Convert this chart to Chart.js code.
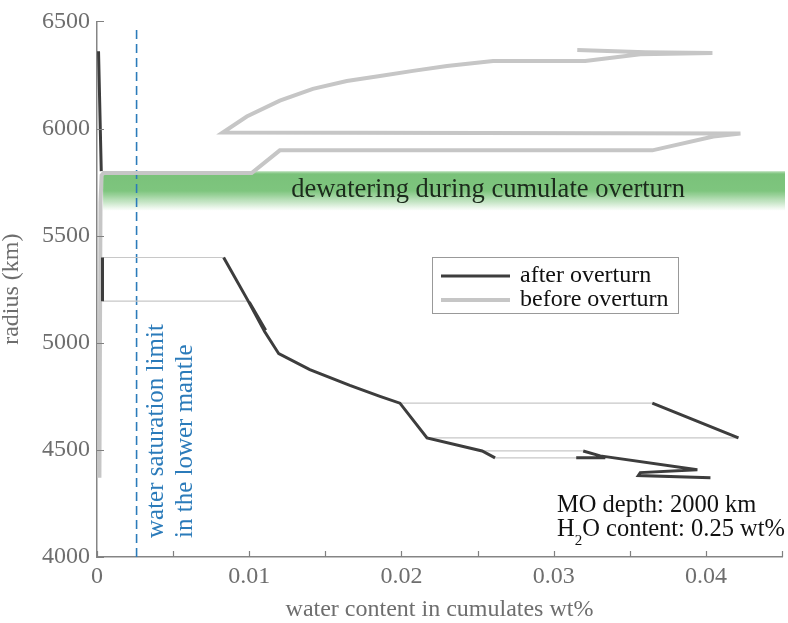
<!DOCTYPE html>
<html>
<head>
<meta charset="utf-8">
<script src="https://cdn.jsdelivr.net/npm/chart.js@4.4.0/dist/chart.umd.min.js"></script>
<style>
  body { margin: 0; background: #fff; }
  #wrap { width: 788px; height: 623px; }
</style>
</head>
<body>
<div id="wrap"><canvas id="chart"></canvas></div>
<script>
// values (water content wt%, radius km); null = gap in the line
const afterX = [0.0001, 0.00028, null, 0.00036, 0.00036, null,
  0.00832, 0.0099, 0.01102, 0.01194, 0.01398, 0.01661, 0.01859, 0.0199, 0.02168, 0.0253, 0.02615, null,
  0.01, 0.01108, null,
  0.03648, 0.04214, null, 0.03148, 0.03339, null,
  0.03194, 0.03306, 0.03944, 0.03569, 0.03556, 0.0403];
const afterR = [6361, 5801, null, 5398, 5194, null,
  5398, 5199, 5051, 4949, 4875, 4801, 4750, 4718, 4556, 4495, 4463, null,
  5190, 5058, null,
  4718, 4556, null, 4463, 4463, null,
  4495, 4472, 4407, 4394, 4380, 4370];

const beforeX = [0.00016, 0.00023, 0.0003, 0.00043, 0.01016, 0.01201, 0.03648, 0.04049, 0.04227,
  0.00826, 0.00984, 0.01201, 0.01418, 0.01641, 0.01859, 0.02076, 0.02299, 0.02602, 0.03207,
  0.03569, 0.04043, 0.03602, 0.03155];
const beforeR = [4370, 5653, 5782, 5792, 5792, 5898, 5898, 5963, 5977,
  5981, 6056, 6130, 6185, 6222, 6245, 6269, 6292, 6315, 6315,
  6347, 6352, 6356, 6366];

// thin connectors between the two profiles
const linkX = [0.00036, 0.00832, null, 0.00036, 0.0099, null, 0.0199, 0.03648, null,
  0.02168, 0.04214, null, 0.0253, 0.03194, null, 0.02615, 0.03148];
const linkR = [5398, 5398, null, 5194, 5194, null, 4718, 4718, null,
  4556, 4556, null, 4495, 4495, null, 4463, 4463];

const satX = [0.0026, 0.0026];
const satR = [4000, 6472];

const bandTop = 5801;
const bandBottom = 5616;
const bandStart = 0.0004;
const bandLabel = "dewatering during cumulate overturn";

const xTicks = [0, 0.01, 0.02, 0.03, 0.04];
const yTicks = [4000, 4500, 5000, 5500, 6000, 6500];

const serif = "'Liberation Serif', 'DejaVu Serif', serif";

function pts(xs, rs) {
  return xs.map((x, i) => ({ x: x, y: rs[i] }));
}

// green dewatering band, under the lines
const bandPlugin = {
  id: "band",
  beforeDatasetsDraw(chart) {
    const { ctx, chartArea, scales: { x, y } } = chart;
    const top = y.getPixelForValue(bandTop);
    const bot = y.getPixelForValue(bandBottom);
    const left = x.getPixelForValue(bandStart);
    const g = ctx.createLinearGradient(0, top, 0, bot);
    g.addColorStop(0, "rgba(122,194,122,0.5)");
    g.addColorStop(0.07, "rgba(122,194,122,1)");
    g.addColorStop(0.5, "rgba(126,197,126,1)");
    g.addColorStop(1, "rgba(126,197,126,0)");
    ctx.save();
    ctx.fillStyle = g;
    ctx.fillRect(left, top, chartArea.right + 3 - left, bot - top);
    ctx.fillStyle = "#1c2b1c";
    ctx.font = "26.5px " + serif;
    ctx.textAlign = "center";
    ctx.textBaseline = "middle";
    ctx.fillText(bandLabel, x.getPixelForValue(0.02569), y.getPixelForValue(5713));
    ctx.restore();
  }
};

// inward ticks, annotations and the boxed legend
const decoPlugin = {
  id: "deco",
  afterDraw(chart) {
    const { ctx, chartArea: a, scales: { x, y } } = chart;
    ctx.save();
    ctx.strokeStyle = "#808080";
    ctx.lineWidth = 1.2;
    ctx.beginPath();
    x.ticks.forEach(t => {
      const px = Math.round(x.getPixelForValue(t.value)) + 0.5;
      ctx.moveTo(px, a.bottom);
      ctx.lineTo(px, a.bottom - 6);
    });
    y.ticks.forEach(t => {
      const py = Math.round(y.getPixelForValue(t.value)) + 0.5;
      ctx.moveTo(a.left, py);
      ctx.lineTo(a.left + 7, py);
    });
    ctx.stroke();

    // saturation note
    ctx.fillStyle = "#2b7bba";
    ctx.font = "25px " + serif;
    ctx.textAlign = "left";
    ctx.textBaseline = "middle";
    [["water saturation limit", 156], ["in the lower mantle", 185]].forEach(([s, cx]) => {
      ctx.save();
      ctx.translate(cx, 538);
      ctx.rotate(-Math.PI / 2);
      ctx.fillText(s, 0, 0);
      ctx.restore();
    });

    // run parameters
    ctx.fillStyle = "#111";
    ctx.textBaseline = "alphabetic";
    ctx.font = "24.5px " + serif;
    ctx.fillText("MO depth: 2000 km", 557, 512);
    let cx = 557;
    ctx.fillText("H", cx, 536);
    cx += ctx.measureText("H").width;
    ctx.font = "15px " + serif;
    ctx.fillText("2", cx, 545);
    cx += ctx.measureText("2").width;
    ctx.font = "24.5px " + serif;
    ctx.fillText("O content: 0.25 wt%", cx, 536);

    // legend
    const ds = chart.data.datasets;
    ctx.font = "24px " + serif;
    ctx.fillStyle = "#fff";
    ctx.fillRect(432, 257, 246, 56);
    ctx.strokeStyle = "#999";
    ctx.lineWidth = 1;
    ctx.strokeRect(432.5, 257.5, 246, 56);
    [[ds[0], 276], [ds[2], 300]].forEach(([d, ly]) => {
      ctx.strokeStyle = d.borderColor;
      ctx.lineWidth = d.borderWidth;
      ctx.beginPath();
      ctx.moveTo(441, ly);
      ctx.lineTo(510, ly);
      ctx.stroke();
      ctx.fillStyle = "#111";
      ctx.textBaseline = "middle";
      ctx.fillText(d.label, 520, ly);
    });
    ctx.restore();
  }
};

new Chart(document.getElementById("chart"), {
  type: "scatter",
  data: {
    datasets: [
      { label: "after overturn", data: pts(afterX, afterR), borderColor: "#3d3d3d", borderWidth: 3, order: 1 },
      { label: "links", data: pts(linkX, linkR), borderColor: "#c8c8c8", borderWidth: 1.2, order: 2 },
      { label: "before overturn", data: pts(beforeX, beforeR), borderColor: "#c6c6c6", borderWidth: 4, order: 3 },
      { label: "saturation", data: pts(satX, satR), borderColor: "#2b7bba", borderWidth: 1.6, borderDash: [9, 5], order: 4 }
    ].map(d => Object.assign(d, { showLine: true, pointRadius: 0, tension: 0, fill: false, spanGaps: false }))
  },
  options: {
    responsive: true,
    maintainAspectRatio: false,
    animation: false,
    layout: { padding: { top: 17, right: 6, left: 0, bottom: 0 } },
    plugins: { legend: { display: false }, tooltip: { enabled: false } },
    scales: {
      x: {
        type: "linear",
        min: 0,
        max: 0.045,
        afterFit: s => { s.height = 66; },
        afterBuildTicks: s => {
          s.ticks = [];
          for (let i = 0; i <= 9; i++) s.ticks.push({ value: +(i * 0.005).toFixed(3) });
        },
        ticks: {
          color: "#6e6e6e",
          font: { family: serif, size: 24 },
          padding: 5,
          maxRotation: 0,
          autoSkip: false,
          callback: v => xTicks.some(t => Math.abs(t - v) < 1e-9) ? String(v) : ""
        },
        grid: { display: false, drawTicks: false },
        border: { display: true, color: "#858585", width: 1.5 },
        title: {
          display: true,
          text: "water content in cumulates wt%",
          color: "#6e6e6e",
          font: { family: serif, size: 24, lineHeight: 1.1 },
          padding: 0
        }
      },
      y: {
        type: "linear",
        min: 4000,
        max: 6500,
        afterFit: s => { s.width = 97; },
        afterBuildTicks: s => { s.ticks = yTicks.map(v => ({ value: v })); },
        ticks: {
          color: "#6e6e6e",
          font: { family: serif, size: 24 },
          padding: 7,
          callback: v => String(v)
        },
        grid: { display: false, drawTicks: false },
        border: { display: true, color: "#858585", width: 1.5 },
        title: {
          display: true,
          text: "radius (km)",
          color: "#6e6e6e",
          font: { family: serif, size: 24, lineHeight: 1.0 },
          padding: 0
        }
      }
    }
  },
  plugins: [bandPlugin, decoPlugin]
});
</script>
</body>
</html>
